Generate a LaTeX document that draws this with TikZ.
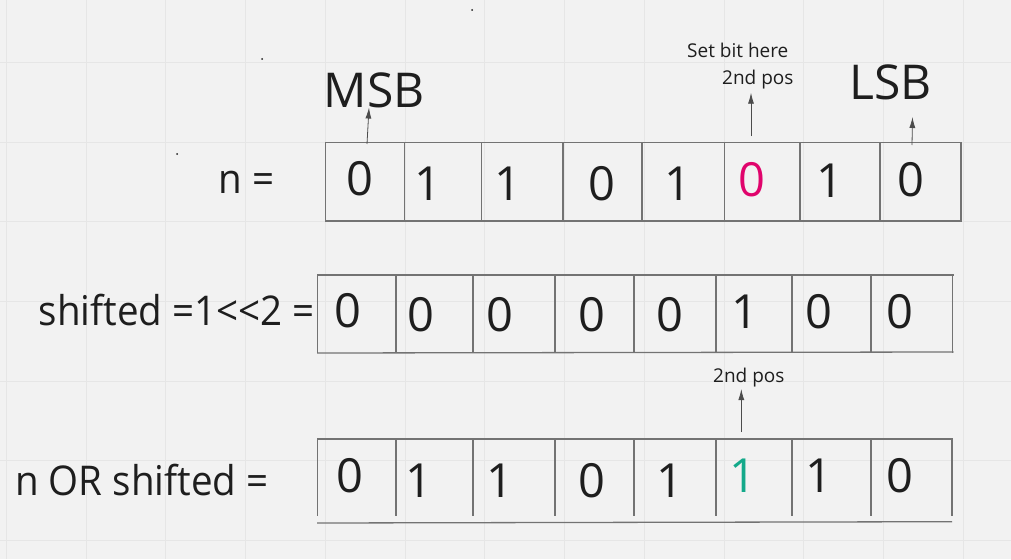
\documentclass[tikz,border=0pt]{standalone}
\usepackage{fontspec}
\setmainfont{Open Sans}
\newfontfamily\lblfont{Open Sans}[FakeStretch=0.94]
\usepackage{tikz}
\usetikzlibrary{arrows.meta}

\definecolor{paperbg}{HTML}{F2F2F2}
\definecolor{gridline}{HTML}{E6E6E6}
\definecolor{inkgray}{HTML}{1E1E1E}
\definecolor{setpink}{HTML}{E0046C}
\definecolor{setgreen}{HTML}{13A98A}

\begin{document}
\begin{tikzpicture}[
  x=1pt, y=-1pt,
  bit/.style={font=\fontsize{47}{47}\selectfont, anchor=base, inner sep=0pt, text=inkgray},
  lbl/.style={font=\lblfont\fontsize{41}{41}\selectfont, anchor=base west, inner sep=0pt, text=inkgray},
  big/.style={font=\fontsize{48}{48}\selectfont, anchor=base west, inner sep=0pt, text=inkgray},
  note/.style={font=\fontsize{19}{19}\selectfont, anchor=base west, inner sep=0pt, text=inkgray},
  cell/.style={draw=black!55, line width=1.3pt},
  arrow/.style={-{Latex[length=11pt, width=6pt]}, line width=0.8pt, draw=black!70}
]
\fill[paperbg] (0,0) rectangle (1011,559);
\useasboundingbox (0,0) rectangle (1011,559);
% background grid
\foreach \gx in {0,...,12}
  \draw[gridline, line width=1pt] ({6.3+79.75*\gx},0) -- ++(0,559);
\foreach \gy in {0,...,6}
  \draw[gridline, line width=1pt] (0,{62.3+79.7*\gy}) -- ++(1011,0);
\fill[inkgray] (472,10) circle (1);
\fill[inkgray] (262,59) circle (1);
\fill[inkgray] (177,154) circle (1);

% row 1: n
\draw[cell] (325,142.7) -- (962,142.7);
\draw[cell] (325,221) -- (962,221);
\foreach \cx in {325.5,404.7,481.7,563,642,724.5,800,880,961}
  \draw[cell] (\cx,142.7) -- (\cx,221);
\foreach \bx/\by/\bv/\bc [count=\i] in {359.7/195/0/inkgray, 428/200.5/1/inkgray,
    508/200.5/1/inkgray, 602/200/0/inkgray, 678/200.5/1/inkgray,
    752/196/0/setpink, 830/197/1/inkgray, 911/196/0/inkgray}
  \node[bit, text=\bc] (n\i) at (\bx,\by) {\bv};

% row 2: shifted
\draw[cell] (317,275) -- (953.5,275);
\draw[cell] (317,353) -- (953.5,352);
\foreach \cx in {317.5,396,473,555,634,716,792,871,952.5}
  \draw[cell] (\cx,275) -- (\cx,352.5);
\foreach \bx/\by/\bv [count=\i] in {348/327/0, 421/331/0, 500/331/0, 592/331/0,
    670/331/0, 745/328/1, 819/328/0, 900/328/0}
  \node[bit] (s\i) at (\bx,\by) {\bv};

% row 3: n OR shifted
\draw[cell] (317,439) -- (953,439);
\draw[cell] (317,523) -- (952,521.7);
\foreach \cx in {317.5,396,473,555,634,716,792,871,952}
  \draw[cell] (\cx,440) -- (\cx,516);
\foreach \bx/\by/\bv/\bc [count=\i] in {350/492/0/inkgray, 419/497/1/inkgray,
    500/497/1/inkgray, 592/497/0/inkgray, 670/497/1/inkgray,
    743/492/1/setgreen, 819/492/1/inkgray, 900/492/0/inkgray}
  \node[bit, text=\bc] (r\i) at (\bx,\by) {\bv};

% labels
\node[lbl] (nlabel) at (218.5,193.3) {n =};
\node[lbl] (shiftlabel) at (38.5,325) {shifted =1<\kern0pt<2 =};
\node[lbl] (orlabel) at (15,495) {n OR shifted =};
\node[big] (msb) at (323.5,107) {MSB};
\node[big] (lsb) at (849,100) {LSB};
\node[note] (setbit) at (687,57.7) {Set bit here};
\node[note] (pos) at (722,84.5) {2nd pos};
\node[note] (orpos) at (713,382.7) {2nd pos};

% arrows
\coordinate (msbfoot) at (367,144);
\coordinate (msbtip) at (369,107.5);
\coordinate (posfoot) at (751,136);
\coordinate (postip) at (751,92.7);
\coordinate (lsbfoot) at (912,145);
\coordinate (lsbtip) at (912.5,117);
\coordinate (orfoot) at (741.3,432);
\coordinate (ortip) at (741.3,389);
\draw[arrow] (msbfoot) -- (msbtip);
\draw[arrow] (posfoot) -- (postip);
\draw[arrow] (lsbfoot) -- (lsbtip);
\draw[arrow] (orfoot) -- (ortip);
\end{tikzpicture}
\end{document}
